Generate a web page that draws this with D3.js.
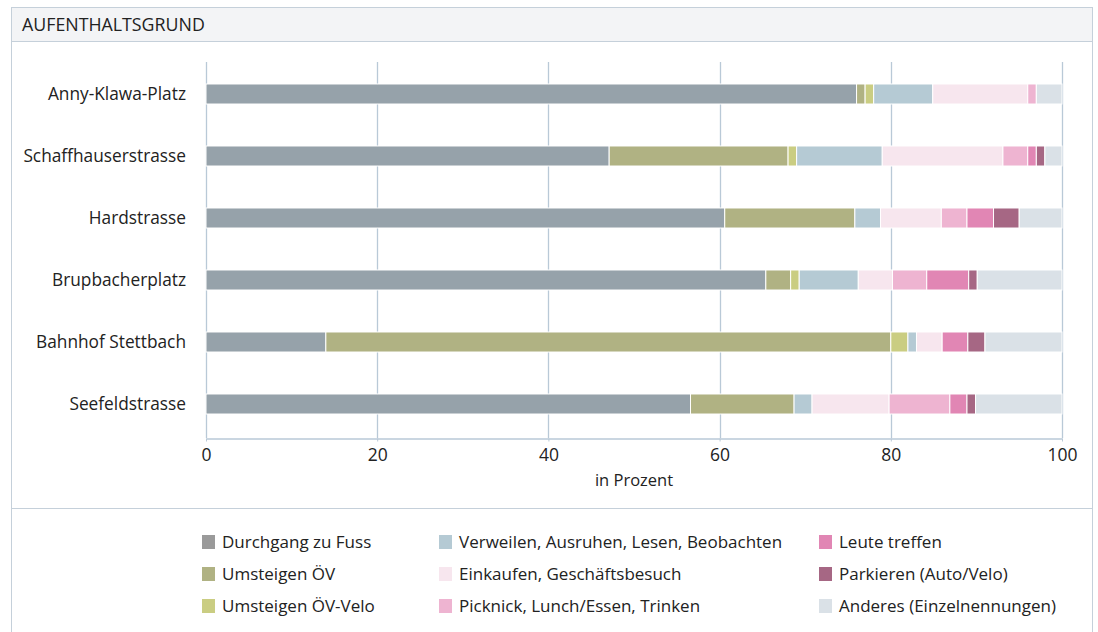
<!DOCTYPE html>
<html>
<head>
<meta charset="utf-8">
<script src="https://cdn.jsdelivr.net/npm/d3@7"></script>
<style>
  html, body { margin: 0; padding: 0; background: #fff; }
  svg text { font-family: "Open Sans", "DejaVu Sans", sans-serif; fill: #222; }
</style>
</head>
<body>
<svg id="chart" width="1098" height="632"></svg>
<script>
// Locations (rows, top to bottom)
const categories = ["Anny-Klawa-Platz", "Schaffhauserstrasse", "Hardstrasse", "Brupbacherplatz", "Bahnhof Stettbach", "Seefeldstrasse"];

// Share of respondents per reason, in percent (same order as categories)
const durchgang   = [76.0, 47.1, 60.6, 65.4, 14.0, 56.6];
const umsteigenOV = [1.0, 20.9, 15.2, 2.9, 66.0, 12.1];
const umsteigenVelo = [1.0, 1.0, 0.0, 1.0, 2.0, 0.0];
const verweilen   = [6.9, 10.0, 3.0, 6.9, 1.0, 2.1];
const einkaufen   = [11.1, 14.1, 7.1, 4.0, 3.0, 9.0];
const picknick    = [1.0, 2.9, 3.0, 4.0, 0.0, 7.1];
const leute       = [0.0, 1.0, 3.1, 4.9, 3.0, 2.0];
const parkieren   = [0.0, 1.0, 3.0, 1.0, 2.0, 1.0];
const anderes     = [3.0, 2.0, 5.0, 9.9, 9.0, 10.1];

const seriesNames = [
  "Durchgang zu Fuss", "Umsteigen ÖV", "Umsteigen ÖV-Velo",
  "Verweilen, Ausruhen, Lesen, Beobachten", "Einkaufen, Geschäftsbesuch", "Picknick, Lunch/Essen, Trinken",
  "Leute treffen", "Parkieren (Auto/Velo)", "Anderes (Einzelnennungen)"
];
const seriesValues = [durchgang, umsteigenOV, umsteigenVelo, verweilen, einkaufen, picknick, leute, parkieren, anderes];
const seriesColors = ["#96a2aa", "#b0b283", "#cacd82", "#b5cad4", "#f7e6ee", "#eeb4d1", "#e186b4", "#a66784", "#dae1e7"];
const xTicks = [0, 20, 40, 60, 80, 100];

const title = "AUFENTHALTSGRUND";
const xTitle = "in Prozent";

const svg = d3.select("#chart");
const frameColor = "#c5d0da";

// Panel frame with header strip
svg.append("rect").attr("x", 11.5).attr("y", 7.5).attr("width", 1081).attr("height", 640)
  .attr("fill", "#fff").attr("stroke", frameColor);
svg.append("rect").attr("x", 12).attr("y", 8).attr("width", 1080).attr("height", 33)
  .attr("fill", "#f3f4f6");
svg.append("line").attr("x1", 11).attr("x2", 1093).attr("y1", 41.5).attr("y2", 41.5).attr("stroke", frameColor);
svg.append("line").attr("x1", 11).attr("x2", 1093).attr("y1", 508.5).attr("y2", 508.5).attr("stroke", frameColor);
svg.append("text").attr("x", 22).attr("y", 31).attr("font-size", 17.8).text(title);

// Scales
const x = d3.scaleLinear().domain([0, 100]).range([206, 1062]);
const y = d3.scaleBand().domain(categories).range([63, 435]).paddingInner(0.677).paddingOuter(0.3385);

// Vertical grid lines
svg.append("g").selectAll("line").data(xTicks).join("line")
  .attr("x1", d => Math.round(x(d)) + 0.5).attr("x2", d => Math.round(x(d)) + 0.5)
  .attr("y1", 62).attr("y2", 438)
  .attr("stroke", "#b9c9d7").attr("stroke-width", 1.3);

// Bottom axis
const xAxis = svg.append("g").attr("transform", "translate(0,438.5)")
  .call(d3.axisBottom(x).tickValues(xTicks).tickSize(3).tickSizeOuter(0).tickPadding(7));
xAxis.select(".domain").attr("stroke", "#b9c9d7").attr("stroke-width", 1.3);
xAxis.selectAll(".tick line").attr("stroke", "#b9c9d7");
xAxis.selectAll(".tick text").attr("font-size", 17.5).attr("fill", "#222")
  .attr("font-family", "'Open Sans', sans-serif");
svg.append("text").attr("x", x(50)).attr("y", 486).attr("text-anchor", "middle")
  .attr("font-size", 16.5).text(xTitle);

// Stacked bars
const rows = categories.map((c, i) => {
  const o = { cat: c };
  seriesNames.forEach((s, k) => { o[s] = seriesValues[k][i]; });
  return o;
});
const stack = d3.stack().keys(seriesNames)(rows);
const color = d3.scaleOrdinal().domain(seriesNames).range(seriesColors);

svg.append("g").selectAll("g").data(stack).join("g")
  .attr("fill", d => color(d.key))
  .selectAll("rect").data(d => d.filter(p => p[1] - p[0] > 0)).join("rect")
  .attr("x", d => x(d[0]))
  .attr("y", d => y(d.data.cat))
  .attr("width", d => x(d[1]) - x(d[0]))
  .attr("height", y.bandwidth())
  .attr("stroke", "#fff").attr("stroke-width", 1);

// Category labels
svg.append("g").selectAll("text").data(categories).join("text")
  .attr("x", 186).attr("y", d => y(d) + y.bandwidth() / 2)
  .attr("dy", "0.35em").attr("text-anchor", "end").attr("font-size", 17.3)
  .text(d => d);

// Legend: three columns of three entries
const legendCols = [202, 439, 819];
const legendRows = [542, 574, 606];
const legend = svg.append("g").selectAll("g").data(seriesNames).join("g")
  .attr("transform", (d, i) => `translate(${legendCols[Math.floor(i / 3)]},${legendRows[i % 3]})`);
legend.append("rect").attr("x", 0).attr("y", -7).attr("width", 13).attr("height", 14)
  .attr("fill", d => d === seriesNames[0] ? "#9a9a9a" : color(d));
legend.append("text").attr("x", 20).attr("dy", "0.35em").attr("font-size", 17).text(d => d);
</script>
</body>
</html>
